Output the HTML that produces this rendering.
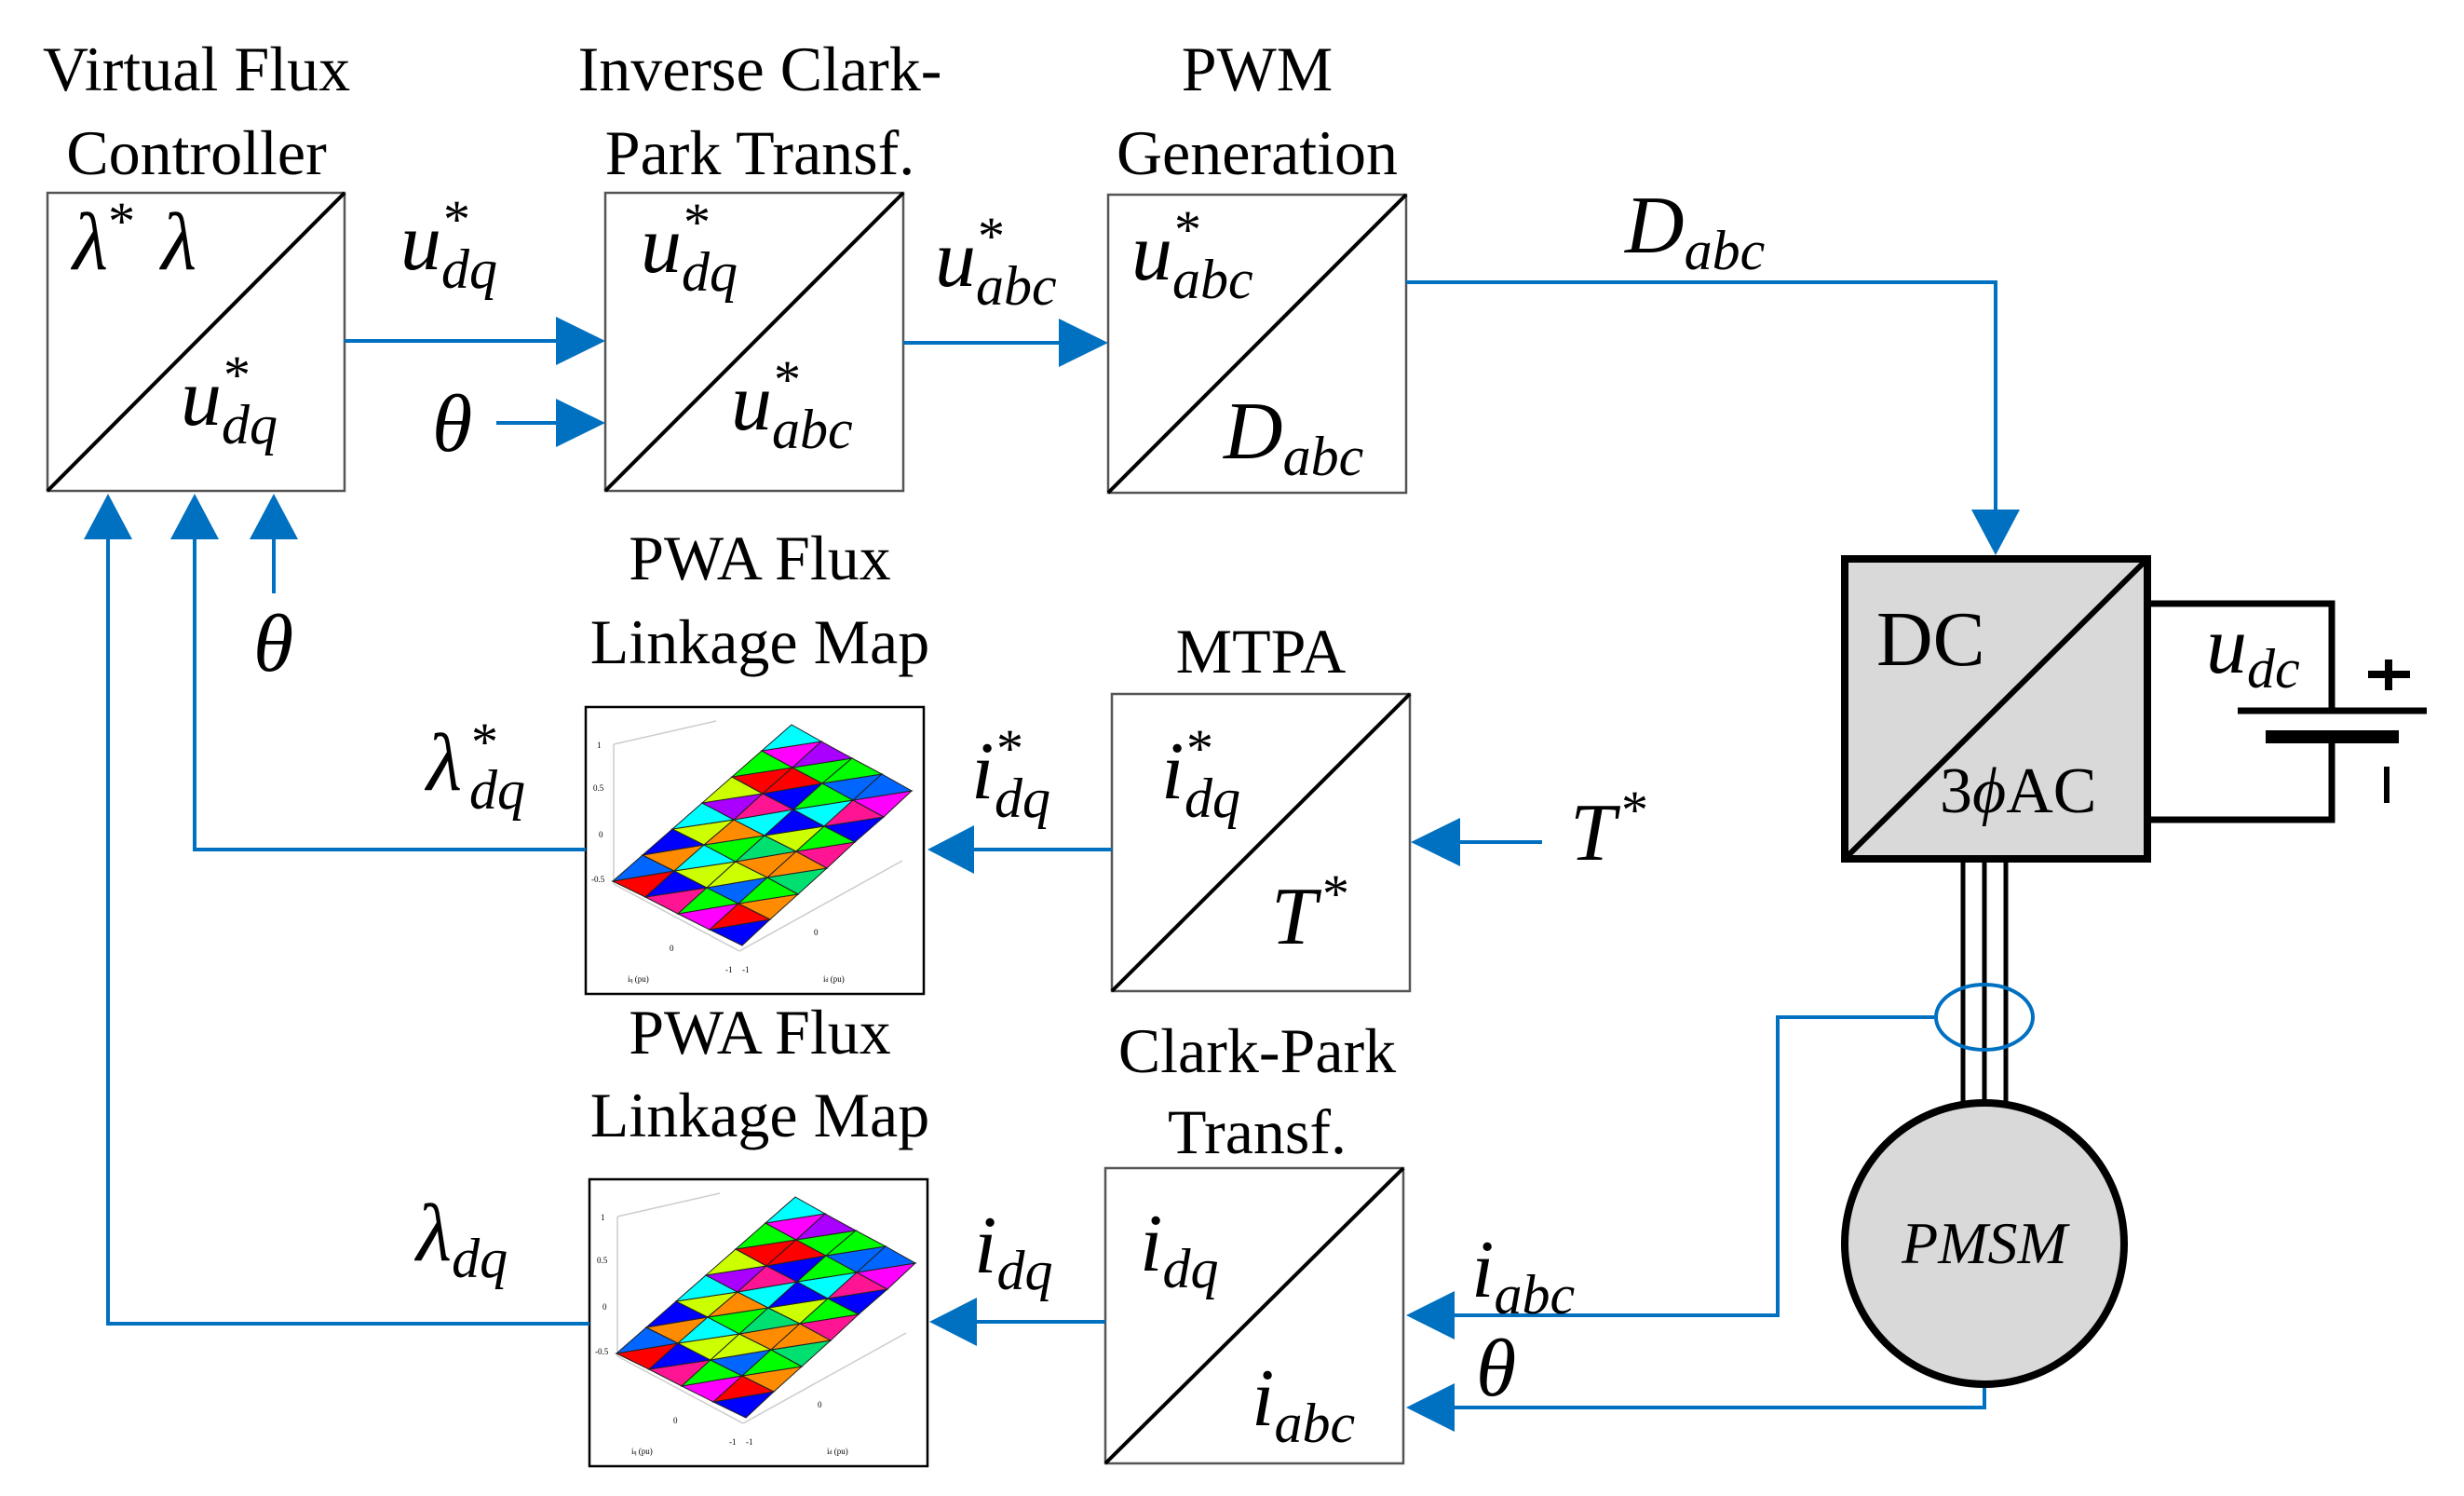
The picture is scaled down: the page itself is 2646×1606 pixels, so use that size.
<!DOCTYPE html>
<html><head><meta charset="utf-8"><style>
html,body{margin:0;padding:0;background:#fff;}
svg{display:block;}
text{font-family:"Liberation Serif","DejaVu Serif",serif;fill:#000;}
.t{font-size:68px;text-anchor:middle;}
.m{font-size:88px;font-style:italic;}
.s{font-size:60px;font-style:italic;}
.st{font-size:58px;font-style:normal;}
.bl{stroke:#0070C0;stroke-width:4;fill:none;}
.ah{fill:#0070C0;}
.bx{fill:#fff;stroke:#555;stroke-width:2.5;}
.dg{stroke:#000;stroke-width:4;}
.r{fill:#ff0000}.b{fill:#0000ff}.c{fill:#00ffff}.o{fill:#ff8c00}.y{fill:#ccff00}.g{fill:#00ff00}.m2{fill:#ff00ff}.p{fill:#aa00ff}.l{fill:#0066ff}.k{fill:#ff1493}.e{fill:#00e070}
</style></head><body>
<svg width="2646" height="1606" viewBox="0 0 2646 1606" xmlns="http://www.w3.org/2000/svg">
<defs>
<g id="map">
 <rect x="0" y="0" width="363" height="308" fill="#fff" stroke="#000" stroke-width="2.5"/>
 <g stroke="#ccc" stroke-width="1.5" fill="none">
  <line x1="30" y1="40" x2="30" y2="190"/>
  <line x1="30" y1="190" x2="165" y2="262"/>
  <line x1="165" y1="262" x2="340" y2="165"/>
  <line x1="30" y1="40" x2="140" y2="15"/>
 </g>
 <g font-size="9" fill="#333" style="font-family:'Liberation Sans',sans-serif">
  <text x="12" y="44">1</text><text x="8" y="90">0.5</text><text x="14" y="140">0</text><text x="6" y="188">-0.5</text>
  <text x="45" y="295">i<tspan font-size="6">q</tspan> (pu)</text><text x="255" y="295">i<tspan font-size="6">d</tspan> (pu)</text>
  <text x="90" y="262">0</text><text x="245" y="245">0</text><text x="150" y="285">-1</text><text x="168" y="285">-1</text>
 </g>
 <g stroke="#222" stroke-width="1">
  <polygon class="r" points="29,187 64,204 95,176"/><polygon class="l" points="29,187 95,176 61,159"/>
  <polygon class="o" points="61,159 95,176 127,148"/><polygon class="b" points="61,159 127,148 93,131"/>
  <polygon class="y" points="93,131 127,148 159,121"/><polygon class="c" points="93,131 159,121 125,103"/>
  <polygon class="p" points="125,103 159,121 190,93"/><polygon class="y" points="125,103 190,93 157,75"/>
  <polygon class="r" points="157,75 190,93 222,65"/><polygon class="g" points="157,75 222,65 189,47"/>
  <polygon class="m2" points="189,47 222,65 253,37"/><polygon class="c" points="189,47 253,37 221,19"/>

  <polygon class="k" points="64,204 99,222 130,194"/><polygon class="b" points="64,204 130,194 95,176"/>
  <polygon class="y" points="95,176 130,194 161,166"/><polygon class="c" points="95,176 161,166 127,148"/>
  <polygon class="g" points="127,148 161,166 192,138"/><polygon class="o" points="127,148 192,138 159,121"/>
  <polygon class="c" points="159,121 192,138 223,110"/><polygon class="k" points="159,121 223,110 190,93"/>
  <polygon class="b" points="190,93 223,110 254,82"/><polygon class="r" points="190,93 254,82 222,65"/>
  <polygon class="g" points="222,65 254,82 286,55"/><polygon class="p" points="222,65 286,55 253,37"/>

  <polygon class="m2" points="99,222 133,239 164,211"/><polygon class="g" points="99,222 164,211 130,194"/>
  <polygon class="l" points="130,194 164,211 195,183"/><polygon class="y" points="130,194 195,183 161,166"/>
  <polygon class="o" points="161,166 195,183 226,155"/><polygon class="e" points="161,166 226,155 192,138"/>
  <polygon class="y" points="192,138 226,155 256,128"/><polygon class="b" points="192,138 256,128 223,110"/>
  <polygon class="c" points="223,110 256,128 287,100"/><polygon class="g" points="223,110 287,100 254,82"/>
  <polygon class="l" points="254,82 287,100 318,72"/><polygon class="g" points="254,82 318,72 286,55"/>

  <polygon class="b" points="133,239 168,256 198,228"/><polygon class="r" points="133,239 198,228 164,211"/>
  <polygon class="o" points="164,211 198,228 228,201"/><polygon class="g" points="164,211 228,201 195,183"/>
  <polygon class="e" points="195,183 228,201 259,173"/><polygon class="o" points="195,183 259,173 226,155"/>
  <polygon class="k" points="226,155 259,173 289,145"/><polygon class="g" points="226,155 289,145 256,128"/>
  <polygon class="b" points="256,128 289,145 320,118"/><polygon class="k" points="256,128 320,118 287,100"/>
  <polygon class="m2" points="287,100 320,118 350,90"/><polygon class="l" points="287,100 350,90 318,72"/>
 </g>
</g>
</defs>

<!-- Titles -->
<text class="t" x="211" y="97">Virtual Flux</text>
<text class="t" x="211" y="187">Controller</text>
<text class="t" x="816" y="97">Inverse Clark-</text>
<text class="t" x="816" y="187">Park Transf.</text>
<text class="t" x="1350" y="97">PWM</text>
<text class="t" x="1350" y="187">Generation</text>
<text class="t" x="816" y="622">PWA Flux</text>
<text class="t" x="816" y="712">Linkage Map</text>
<text class="t" x="1354" y="722">MTPA</text>
<text class="t" x="816" y="1131">PWA Flux</text>
<text class="t" x="816" y="1220">Linkage Map</text>
<text class="t" x="1350" y="1151">Clark-Park</text>
<text class="t" x="1350" y="1238">Transf.</text>

<!-- Boxes -->
<rect class="bx" x="51" y="207" width="319" height="320"/><line class="dg" x1="51" y1="527" x2="370" y2="207"/>
<rect class="bx" x="650" y="207" width="320" height="320"/><line class="dg" x1="650" y1="527" x2="970" y2="207"/>
<rect class="bx" x="1190" y="209" width="320" height="320"/><line class="dg" x1="1190" y1="529" x2="1510" y2="209"/>
<rect class="bx" x="1194" y="745" width="320" height="319"/><line class="dg" x1="1194" y1="1064" x2="1514" y2="745"/>
<rect class="bx" x="1187" y="1254" width="320" height="317"/><line class="dg" x1="1187" y1="1571" x2="1507" y2="1254"/>

<!-- Maps -->
<g transform="translate(629,759)"><use href="#map"/></g>
<g transform="translate(633,1266)"><use href="#map"/></g>

<!-- Blue connectors -->
<polyline class="bl" points="370,366 600,366"/><polygon class="ah" points="650,366 597,340 597,392"/>
<polyline class="bl" points="533,454 600,454"/><polygon class="ah" points="650,454 597,428 597,480"/>
<polyline class="bl" points="970,368 1140,368"/><polygon class="ah" points="1190,368 1137,342 1137,394"/>
<polyline class="bl" points="1510,303 2143,303 2143,550"/><polygon class="ah" points="2143,596 2117,547 2169,547"/>
<polyline class="bl" points="116,575 116,1421 633,1421"/><polygon class="ah" points="116,530 90,579 142,579"/>
<polyline class="bl" points="209,575 209,912 629,912"/><polygon class="ah" points="209,530 183,579 235,579"/>
<polyline class="bl" points="294,575 294,637"/><polygon class="ah" points="294,530 268,579 320,579"/>
<polyline class="bl" points="1194,912 1043,912"/><polygon class="ah" points="996,912 1046,886 1046,938"/>
<polyline class="bl" points="1187,1419 1046,1419"/><polygon class="ah" points="998,1419 1049,1393 1049,1445"/>
<polyline class="bl" points="1656,904 1565,904"/><polygon class="ah" points="1515,904 1568,878 1568,930"/>
<polyline class="bl" points="2079,1092 1909,1092 1909,1412 1558,1412"/><polygon class="ah" points="1510,1412 1562,1386 1562,1438"/>
<polyline class="bl" points="2131,1487 2131,1511 1558,1511"/><polygon class="ah" points="1510,1511 1562,1485 1562,1537"/>

<!-- Inverter, battery, motor -->
<line x1="2108" y1="922" x2="2108" y2="1190" stroke="#000" stroke-width="5"/>
<line x1="2131" y1="922" x2="2131" y2="1190" stroke="#000" stroke-width="5"/>
<line x1="2154" y1="922" x2="2154" y2="1190" stroke="#000" stroke-width="5"/>
<ellipse cx="2131" cy="1092" rx="52" ry="35" fill="none" stroke="#0070C0" stroke-width="4"/>
<rect x="1981" y="600" width="325" height="322" fill="#d9d9d9" stroke="#000" stroke-width="8"/>
<line x1="1981" y1="922" x2="2306" y2="600" stroke="#000" stroke-width="6"/>
<polyline points="2306,648 2504,648 2504,763" fill="none" stroke="#000" stroke-width="7"/>
<line x1="2403" y1="763" x2="2606" y2="763" stroke="#000" stroke-width="7"/>
<line x1="2433" y1="791" x2="2576" y2="791" stroke="#000" stroke-width="14"/>
<polyline points="2504,791 2504,880 2306,880" fill="none" stroke="#000" stroke-width="7"/>
<line x1="2565" y1="708" x2="2565" y2="741" stroke="#000" stroke-width="8"/>
<line x1="2543" y1="724" x2="2588" y2="724" stroke="#000" stroke-width="8"/>
<line x1="2563" y1="823" x2="2563" y2="862" stroke="#000" stroke-width="6"/>
<ellipse cx="2131" cy="1335" rx="150" ry="151" fill="#d9d9d9" stroke="#000" stroke-width="8"/>
<text x="2131" y="1356" font-size="64" font-style="italic" text-anchor="middle">PMSM</text>
<text x="2015" y="714" font-size="84">DC</text>
<text x="2083" y="872" font-size="70">3<tspan font-style="italic">ϕ</tspan>AC</text>
<text class="m" x="2369" y="722" font-size="80">u<tspan class="s" font-size="56" dy="16">dc</tspan></text>

<!-- Math labels -->
<text class="m" x="78" y="289">λ<tspan class="st" dy="-32">*</tspan><tspan dx="28" dy="32">λ</tspan></text>
<text class="m" x="194" y="456">u</text><text class="st" x="240" y="422">*</text><text class="s" x="238" y="476">dq</text>
<text class="m" x="430" y="289">u</text><text class="st" x="476" y="255">*</text><text class="s" x="474" y="309">dq</text>
<text class="m" x="464" y="484">θ</text>
<text class="m" x="688" y="292">u</text><text class="st" x="734" y="258">*</text><text class="s" x="732" y="312">dq</text>
<text class="m" x="785" y="461">u</text><text class="st" x="831" y="427">*</text><text class="s" x="829" y="481">abc</text>
<text class="m" x="1004" y="307">u</text><text class="st" x="1050" y="273">*</text><text class="s" x="1048" y="327">abc</text>
<text class="m" x="1215" y="300">u</text><text class="st" x="1261" y="266">*</text><text class="s" x="1259" y="320">abc</text>
<text class="m" x="1314" y="492">D<tspan class="s" dy="18">abc</tspan></text>
<text class="m" x="1745" y="271">D<tspan class="s" dy="18">abc</tspan></text>
<text class="m" x="272" y="720">θ</text>
<text class="m" x="458" y="848">λ</text><text class="st" x="506" y="816">*</text><text class="s" x="504" y="868">dq</text>
<text class="m" x="1043" y="857">i</text><text class="st" x="1070" y="823">*</text><text class="s" x="1068" y="877">dq</text>
<text class="m" x="1247" y="857">i</text><text class="st" x="1274" y="823">*</text><text class="s" x="1272" y="877">dq</text>
<text class="m" x="1365" y="1013">T<tspan class="st" dx="6" dy="-34">*</tspan></text>
<text class="m" x="1686" y="923">T<tspan class="st" dx="6" dy="-34">*</tspan></text>
<text class="m" x="447" y="1353">λ<tspan class="s" dy="18">dq</tspan></text>
<text class="m" x="1046" y="1366">i<tspan class="s" dy="18">dq</tspan></text>
<text class="m" x="1224" y="1364">i<tspan class="s" dy="18">dq</tspan></text>
<text class="m" x="1344" y="1530">i<tspan class="s" dy="18">abc</tspan></text>
<text class="m" x="1580" y="1392">i<tspan class="s" dy="18">abc</tspan></text>
<text class="m" x="1585" y="1498">θ</text>
</svg>
</body></html>
